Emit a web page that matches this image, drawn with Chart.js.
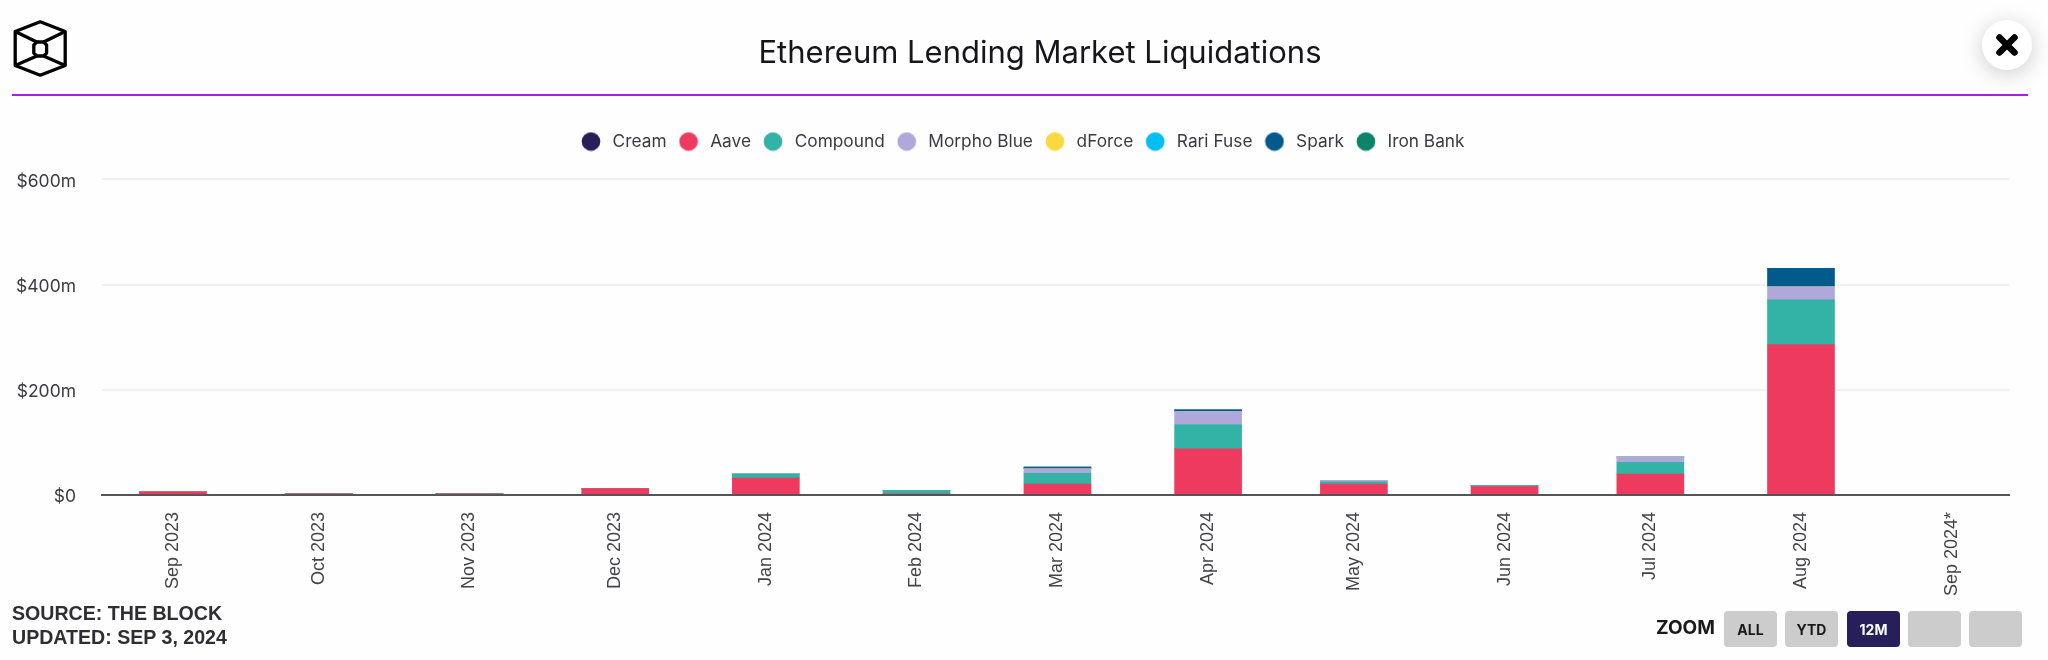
<!DOCTYPE html>
<html>
<head>
<meta charset="utf-8">
<script src="https://cdn.jsdelivr.net/npm/chart.js@4/dist/chart.umd.min.js"></script>
<style>
html,body{margin:0;padding:0;background:#fefefe;width:2048px;height:660px;overflow:hidden}
#wrap{position:relative;width:2048px;height:660px}
#c{position:absolute;left:0;top:0}
.abs{position:absolute}
#title{left:0;width:2080px;top:30.5px;text-align:center;font:400 31px/42px Inter,sans-serif;color:#15151a}
#rule{left:12px;top:94px;width:2016px;height:2px;background:#a61fe6}
#src{left:12px;top:602px;font:700 19.6px/23.5px "Liberation Sans",Arial,sans-serif;color:#2e2e33}
#zl{left:1656px;top:616px;font:700 19px/24px Inter,sans-serif;color:#1a1a1a}
.btn{position:absolute;top:611px;width:53px;height:36px;border-radius:4px;background:#cccccc;text-align:center;font:700 14px/37px Inter,sans-serif;color:#1a1a1a}
.btn.on{background:#261f5a;color:#fff}
#close{left:1982px;top:20px;width:50px;height:50px;border-radius:50%;background:#fff;box-shadow:0 4px 22px rgba(0,0,0,.2)}
</style>
</head>
<body>
<div id="wrap">
<canvas id="c" width="2048" height="660"></canvas>
<svg class="abs" style="left:0;top:0" width="90" height="90" fill="none" stroke="#000" stroke-width="3.3" stroke-linejoin="round">
<path d="M40.2 21.8 L65.2 31.5 V65.5 L40.2 75.2 L15.2 65.5 V31.5 Z"/>
<path d="M36.8 42 H43.6 L46.6 45 V53 L43.6 56 H36.8 L33.8 53 V45 Z"/>
<path d="M15.2 31.5 L36.8 42 M65.2 31.5 L43.6 42 M15.2 65.5 L36.8 56 M65.2 65.5 L43.6 56"/>
</svg>
<div id="title" class="abs">Ethereum Lending Market Liquidations</div>
<div id="rule" class="abs"></div>
<div id="src" class="abs">SOURCE: THE BLOCK<br>UPDATED: SEP 3, 2024</div>
<div id="zl" class="abs">ZOOM</div>
<div class="btn" style="left:1724px">ALL</div>
<div class="btn" style="left:1785px">YTD</div>
<div class="btn on" style="left:1847px">12M</div>
<div class="btn" style="left:1908px"></div>
<div class="btn" style="left:1969px"></div>
<div id="close" class="abs"><svg width="50" height="50"><path d="M17.5 17.5 L32.5 32.5 M32.5 17.5 L17.5 32.5" stroke="#000" stroke-width="6.5" stroke-linecap="round"/></svg></div>
</div>
<script>
const categories = ['Sep 2023','Oct 2023','Nov 2023','Dec 2023','Jan 2024','Feb 2024','Mar 2024','Apr 2024','May 2024','Jun 2024','Jul 2024','Aug 2024','Sep 2024*'];
const monthStarts = ['2023-09-01','2023-10-01','2023-11-01','2023-12-01','2024-01-01','2024-02-01','2024-03-01','2024-04-01','2024-05-01','2024-06-01','2024-07-01','2024-08-01','2024-09-01'];
const cream      = [0,0,0,0,0,0,0,0,0,0,0,0,0];
const aave       = [6,2,2,12,32,2,21,88,21,16,40,286,0];
const compound   = [0,0,0,0,8,7,20,46,4,2,22,85,0];
const morphoBlue = [0,0,0,0,0,0,9,25,3,0,10,25,0];
const dForce     = [0,0,0,0,0,0,0,0,0,0,0,0,0];
const rariFuse   = [0,0,0,0,0,0,0,0,0,0,0,0,0];
const spark      = [0,0,0,0,0,0,3,3,0,0,0,35,0];
const ironBank   = [0,0,0,0,0,0,0,0,0,0,0,0,0];
const yTicks = [0,200,400,600];

const DAY = 86400000;
const t0 = Date.parse(monthStarts[0]);
const days = monthStarts.map(d => (Date.parse(d) - t0) / DAY);
const dot = color => {
  const k = document.createElement('canvas'); k.width = 20; k.height = 20;
  const g = k.getContext('2d'); g.fillStyle = color;
  g.beginPath(); g.arc(10,10,9.3,0,Math.PI*2); g.fill();
  return k;
};
const series = (label, values, color) => ({
  label, xAxisID:'x', yAxisID:'y',
  data: values.map((v,i) => ({x:days[i], y:v})),
  backgroundColor: color, borderWidth:0, barThickness:67, stack:'all', dot: dot(color)
});
new Chart(document.getElementById('c'), {
  type:'bar',
  data:{ datasets:[
    series('Cream', cream, '#261f5a'),
    series('Aave', aave, '#ee3a5e'),
    series('Compound', compound, '#33b3a5'),
    series('Morpho Blue', morphoBlue, '#b0a7da'),
    series('dForce', dForce, '#fcd83f'),
    series('Rari Fuse', rariFuse, '#00bdf2'),
    series('Spark', spark, '#005a8c'),
    series('Iron Bank', ironBank, '#0b8468')
  ]},
  options:{
    responsive:false, animation:false, devicePixelRatio:1,
    layout:{padding:{top:123.85,left:0,right:5.5,bottom:0}},
    plugins:{
      title:{display:false}, tooltip:{enabled:false},
      legend:{display:true, position:'top', align:'center',
        labels:{usePointStyle:true, boxWidth:26, pointStyleWidth:26, boxHeight:13, padding:9,
          color:'#3a3a44', font:{family:'Inter', size:17.3},
          generateLabels(chart){
            return chart.data.datasets.map((d,i)=>({text:d.label, fillStyle:d.backgroundColor, strokeStyle:d.backgroundColor, lineWidth:0, pointStyle:d.dot, fontColor:'#3a3a44', datasetIndex:i, hidden:false}));
          }}}
    },
    scales:{
      x:{type:'linear', stacked:true, position:'bottom', min:-14.6, max:377.8, offset:false,
        grid:{display:false, offset:false},
        border:{display:true, color:'#555558', width:2, z:1},
        afterBuildTicks(s){ s.ticks = days.map(v=>({value:v})); },
        afterFit(s){ s.height = 165; },
        ticks:{autoSkip:false, minRotation:90, maxRotation:90, padding:9, color:'#444448',
          font:{family:'Liberation Sans', size:18},
          callback(v){ return categories[days.indexOf(v)] ?? ''; }}
      },
      gapTop:{type:'linear', axis:'x', position:'top', display:true,
        grid:{display:false}, border:{display:false}, ticks:{display:false},
        afterFit(s){ s.height = 19.35; }},
      gapRight:{type:'linear', axis:'y', position:'right', display:true,
        grid:{display:false}, border:{display:false}, ticks:{display:false},
        afterFit(s){ s.width = 33.5; }},
      y:{type:'linear', stacked:true, position:'left', min:0, max:600,
        grid:{color:'#f2f0f4', lineWidth:2, drawTicks:false},
        border:{display:false},
        afterBuildTicks(s){ s.ticks = yTicks.map(v=>({value:v})); },
        afterFit(s){ s.width = 102; },
        ticks:{padding:26, color:'#3a3a44', font:{family:'Inter', size:17.5},
          callback(v){ return v===0 ? '$0' : '$'+v+'m'; }},
        afterDataLimits(s){
          if (s._nudged) return; s._nudged = true;
          const draw = s.drawLabels;
          s.drawLabels = function(a){ const c = this.ctx; c.save(); c.translate(0,2); draw.call(this,a); c.restore(); };
        }
      }
    }
  }
});
</script>
</body>
</html>
